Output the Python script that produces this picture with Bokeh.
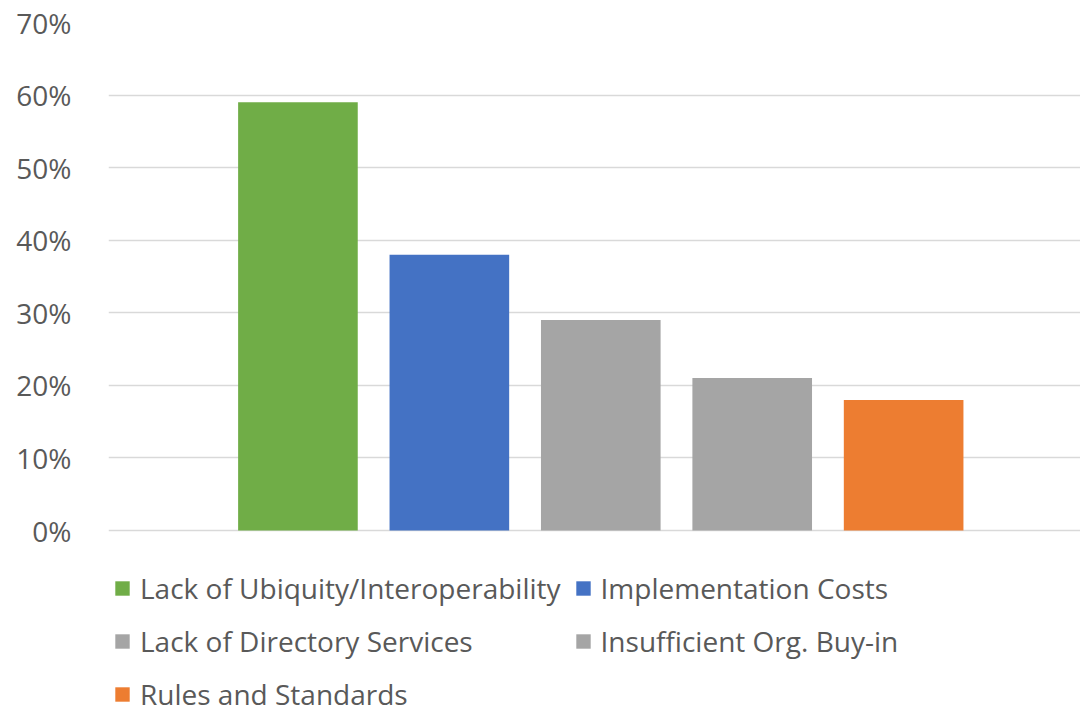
from bokeh.plotting import figure
from bokeh.models import ColumnDataSource, Range1d, NumeralTickFormatter, FixedTicker, Legend, LegendItem
from bokeh.embed import file_html
from bokeh.resources import INLINE

categories = ["Lack of Ubiquity/Interoperability", "Implementation Costs",
              "Lack of Directory Services", "Insufficient Org. Buy-in", "Rules and Standards"]
values = [0.59, 0.38, 0.29, 0.21, 0.18]
colors = ["#70AD47", "#4472C4", "#A5A5A5", "#A5A5A5", "#ED7D31"]
y_ticks = [0, 0.1, 0.2, 0.3, 0.4, 0.5, 0.6, 0.7]

FONT = "Open Sans"
TXT = "#595959"

src = ColumnDataSource(dict(x=list(range(len(values))), top=values, color=colors, label=categories))

p = figure(width=1080, height=714, output_backend="svg", toolbar_location=None,
           x_range=Range1d(-1.251, 5.168), y_range=Range1d(-0.2535, 0.70),
           min_border_left=108, min_border_right=0, min_border_top=22, min_border_bottom=0)
p.outline_line_color = None
p.background_fill_color = "white"

r = p.vbar(x="x", top="top", width=0.79, color="color", line_color=None, source=src)

p.xaxis.visible = False
p.xgrid.grid_line_color = None
p.yaxis.ticker = FixedTicker(ticks=y_ticks)
p.yaxis.formatter = NumeralTickFormatter(format="0%")
p.yaxis.axis_line_color = None
p.yaxis.major_tick_line_color = None
p.yaxis.minor_tick_line_color = None
p.yaxis.major_label_text_font = FONT
p.yaxis.major_label_text_font_size = "28px"
p.yaxis.major_label_text_color = TXT
p.yaxis.major_label_standoff = 31
p.ygrid.ticker = FixedTicker(ticks=y_ticks)
p.ygrid.grid_line_color = "#D9D9D9"
p.ygrid.grid_line_width = 1.5
p.ygrid.level = "underlay"

# legend is laid out column-major: left column first, then right column
legend_order = [0, 2, 4, 1, 3]
items = [LegendItem(label=categories[i], renderers=[r], index=i) for i in legend_order]
legend = Legend(items=items, location=(5, 0), ncols=2,
                label_text_font=FONT, label_text_font_size="28px", label_text_color=TXT,
                glyph_width=18, glyph_height=18, label_standoff=9, label_height=40,
                spacing=13, padding=0, margin=0,
                background_fill_alpha=0, border_line_color=None)
p.add_layout(legend, "center")

open("out.html", "w").write(file_html(p, INLINE))
